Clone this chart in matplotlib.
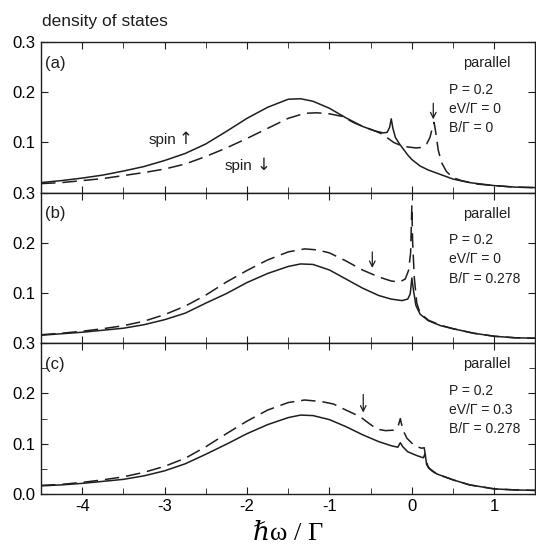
import matplotlib
matplotlib.use('Agg')
import matplotlib.pyplot as plt
from matplotlib.ticker import MultipleLocator

plt.rcParams['axes.unicode_minus'] = False
plt.rcParams['font.family'] = ['Liberation Sans', 'DejaVu Sans']

# panel (a): P=0.2, eV=0, B=0
xa_up = [-4.5, -4.25, -4.0, -3.75, -3.5, -3.25, -3.0, -2.75, -2.5, -2.25, -2.0, -1.75, -1.5, -1.35, -1.2,
         -1.0, -0.8, -0.6, -0.45, -0.35, -0.30, -0.27, -0.25, -0.23, -0.2, -0.15, -0.1, -0.05, 0.0, 0.1,
         0.2, 0.3, 0.5, 0.7, 1.0, 1.25, 1.5]
ya_up = [0.020, 0.024, 0.029, 0.035, 0.043, 0.052, 0.064, 0.078, 0.097, 0.122, 0.148, 0.170, 0.186, 0.187, 0.182,
         0.168, 0.149, 0.132, 0.123, 0.119, 0.120, 0.130, 0.147, 0.128, 0.110, 0.097, 0.086, 0.075, 0.066, 0.053,
         0.045, 0.039, 0.027, 0.020, 0.014, 0.011, 0.010]
xa_dn = [-4.5, -4.25, -4.0, -3.75, -3.5, -3.25, -3.0, -2.75, -2.5, -2.25, -2.0, -1.75, -1.5, -1.3, -1.15,
         -1.0, -0.85, -0.7, -0.55, -0.45, -0.35, -0.28, -0.22, -0.15, -0.05, 0.05, 0.12, 0.18, 0.22, 0.25,
         0.27, 0.29, 0.32, 0.36, 0.42, 0.5, 0.6, 0.8, 1.0, 1.25, 1.5]
ya_dn = [0.018, 0.020, 0.024, 0.028, 0.034, 0.040, 0.047, 0.057, 0.072, 0.089, 0.108, 0.128, 0.148, 0.158, 0.159,
         0.157, 0.152, 0.139, 0.129, 0.123, 0.116, 0.107, 0.100, 0.095, 0.091, 0.089, 0.090, 0.097, 0.110, 0.130,
         0.140, 0.120, 0.085, 0.060, 0.042, 0.030, 0.024, 0.017, 0.014, 0.011, 0.010]

# panel (b): P=0.2, eV=0, B=0.278
xb_up = [-4.5, -4.25, -4.0, -3.75, -3.5, -3.25, -3.0, -2.75, -2.5, -2.25, -2.0, -1.75, -1.5, -1.35, -1.2,
         -1.0, -0.8, -0.6, -0.4, -0.25, -0.12, -0.05, -0.02, 0.0, 0.02, 0.05, 0.1, 0.2, 0.35, 0.5,
         0.75, 1.0, 1.25, 1.5]
yb_up = [0.016, 0.019, 0.022, 0.026, 0.030, 0.037, 0.047, 0.060, 0.080, 0.099, 0.121, 0.139, 0.153, 0.158, 0.157,
         0.146, 0.128, 0.110, 0.095, 0.088, 0.085, 0.088, 0.098, 0.130, 0.105, 0.075, 0.058, 0.045, 0.035, 0.029,
         0.020, 0.014, 0.011, 0.010]
xb_dn = [-4.5, -4.25, -4.0, -3.75, -3.5, -3.25, -3.0, -2.75, -2.5, -2.25, -2.0, -1.75, -1.5, -1.3, -1.15,
         -1.0, -0.8, -0.6, -0.4, -0.25, -0.15, -0.08, -0.04, -0.015, 0.0, 0.01, 0.03, 0.06, 0.1, 0.2,
         0.35, 0.5, 0.75, 1.0, 1.25, 1.5]
yb_dn = [0.017, 0.020, 0.024, 0.029, 0.035, 0.044, 0.057, 0.074, 0.096, 0.122, 0.145, 0.166, 0.182, 0.188, 0.186,
         0.180, 0.164, 0.146, 0.132, 0.124, 0.122, 0.128, 0.145, 0.180, 0.275, 0.200, 0.130, 0.080, 0.060, 0.046,
         0.036, 0.029, 0.020, 0.014, 0.011, 0.010]

# panel (c): P=0.2, eV=0.3, B=0.278
xc_up = [-4.5, -4.25, -4.0, -3.75, -3.5, -3.25, -3.0, -2.75, -2.5, -2.25, -2.0, -1.75, -1.5, -1.35, -1.2,
         -1.0, -0.8, -0.6, -0.4, -0.25, -0.17, -0.14, -0.11, -0.05, 0.05, 0.12, 0.14, 0.16, 0.18, 0.22,
         0.3, 0.5, 0.7, 1.0, 1.25, 1.5]
yc_up = [0.016, 0.018, 0.021, 0.025, 0.029, 0.036, 0.046, 0.060, 0.079, 0.099, 0.120, 0.138, 0.152, 0.157, 0.156,
         0.148, 0.134, 0.118, 0.104, 0.096, 0.093, 0.102, 0.094, 0.084, 0.077, 0.073, 0.072, 0.080, 0.058, 0.050,
         0.040, 0.028, 0.018, 0.010, 0.008, 0.007]
xc_dn = [-4.5, -4.25, -4.0, -3.75, -3.5, -3.25, -3.0, -2.75, -2.5, -2.25, -2.0, -1.75, -1.5, -1.3, -1.1,
         -0.95, -0.8, -0.63, -0.5, -0.42, -0.32, -0.22, -0.17, -0.14, -0.11, -0.06, 0.0, 0.06, 0.12, 0.15,
         0.17, 0.2, 0.25, 0.3, 0.5, 0.7, 1.0, 1.25, 1.5]
yc_dn = [0.017, 0.019, 0.023, 0.028, 0.034, 0.043, 0.055, 0.071, 0.094, 0.120, 0.145, 0.167, 0.182, 0.187, 0.184,
         0.179, 0.167, 0.154, 0.138, 0.129, 0.126, 0.127, 0.133, 0.150, 0.128, 0.111, 0.101, 0.094, 0.091, 0.092,
         0.070, 0.052, 0.045, 0.040, 0.028, 0.018, 0.010, 0.008, 0.007]

panels = [
    ('(a)', xa_up, ya_up, xa_dn, ya_dn, ['P = 0.2', 'eV/Γ = 0', 'B/Γ = 0'], (0.26, 0.178, 0.146)),
    ('(b)', xb_up, yb_up, xb_dn, yb_dn, ['P = 0.2', 'eV/Γ = 0', 'B/Γ = 0.278'], (-0.48, 0.182, 0.150)),
    ('(c)', xc_up, yc_up, xc_dn, yc_dn, ['P = 0.2', 'eV/Γ = 0.3', 'B/Γ = 0.278'], (-0.59, 0.198, 0.162)),
]

fig, axes = plt.subplots(3, 1, figsize=(5.36, 5.6), dpi=100, sharex=True)
fig.subplots_adjust(left=0.0765, right=0.999, top=0.925, bottom=0.118, hspace=0)

ink = '#1e1e1e'
for i, (ax, (tag, xu, yu, xd, yd, params, arr)) in enumerate(zip(axes, panels)):
    ax.plot(xu, yu, color=ink, lw=1.1)
    ax.plot(xd, yd, color=ink, lw=1.1, dashes=(9.5, 4.5))
    ax.set_xlim(-4.5, 1.5)
    ax.set_ylim(0, 0.3)
    ax.xaxis.set_major_locator(MultipleLocator(1))
    ax.xaxis.set_minor_locator(MultipleLocator(0.5))
    ax.yaxis.set_major_locator(MultipleLocator(0.1))
    ax.yaxis.set_minor_locator(MultipleLocator(0.05))
    ax.tick_params(which='both', direction='in', top=True, right=True, color=ink, labelsize=12, pad=4)
    ax.tick_params(which='major', length=5)
    ax.tick_params(which='minor', length=4)
    if i < 2:
        ax.set_yticks([0.1, 0.2, 0.3])
        ax.set_yticks([0.0], minor=True)
    ax.set_yticklabels(['%.1f' % t for t in ax.get_yticks()])
    for s in ax.spines.values():
        s.set_color(ink)
        s.set_linewidth(1.0)
    ax.text(-4.45, 0.258, tag, fontsize=12, ha='left', va='center', color=ink)
    ax.text(0.62, 0.258, 'parallel', fontsize=10.5, ha='left', va='center', color=ink)
    for k, p in enumerate(params):
        ax.text(0.45, 0.205 - k * 0.038, p, fontsize=10, ha='left', va='center', color=ink)
    ax.annotate('', xy=(arr[0], arr[2]), xytext=(arr[0], arr[1]),
                arrowprops=dict(arrowstyle='->', lw=0.9, color=ink, shrinkA=0, shrinkB=0))

axes[0].text(-3.2, 0.105, 'spin', fontsize=11, ha='left', va='center', color=ink)
axes[0].text(-2.74, 0.107, '↑', fontsize=12, ha='center', va='center', color=ink, family=['DejaVu Sans'])
axes[0].text(-2.27, 0.054, 'spin', fontsize=11, ha='left', va='center', color=ink)
axes[0].text(-1.8, 0.056, '↓', fontsize=12, ha='center', va='center', color=ink, family=['DejaVu Sans'])

axes[2].set_xticklabels(['%d' % t for t in axes[2].get_xticks()])
axes[2].set_xlabel('ℏω / Γ', family=['Liberation Serif', 'DejaVu Serif'], fontsize=19, labelpad=6)
fig.text(0.078, 0.962, 'density of states', fontsize=12.5, ha='left', va='center', color=ink)

fig.savefig('out.png', dpi=100)
